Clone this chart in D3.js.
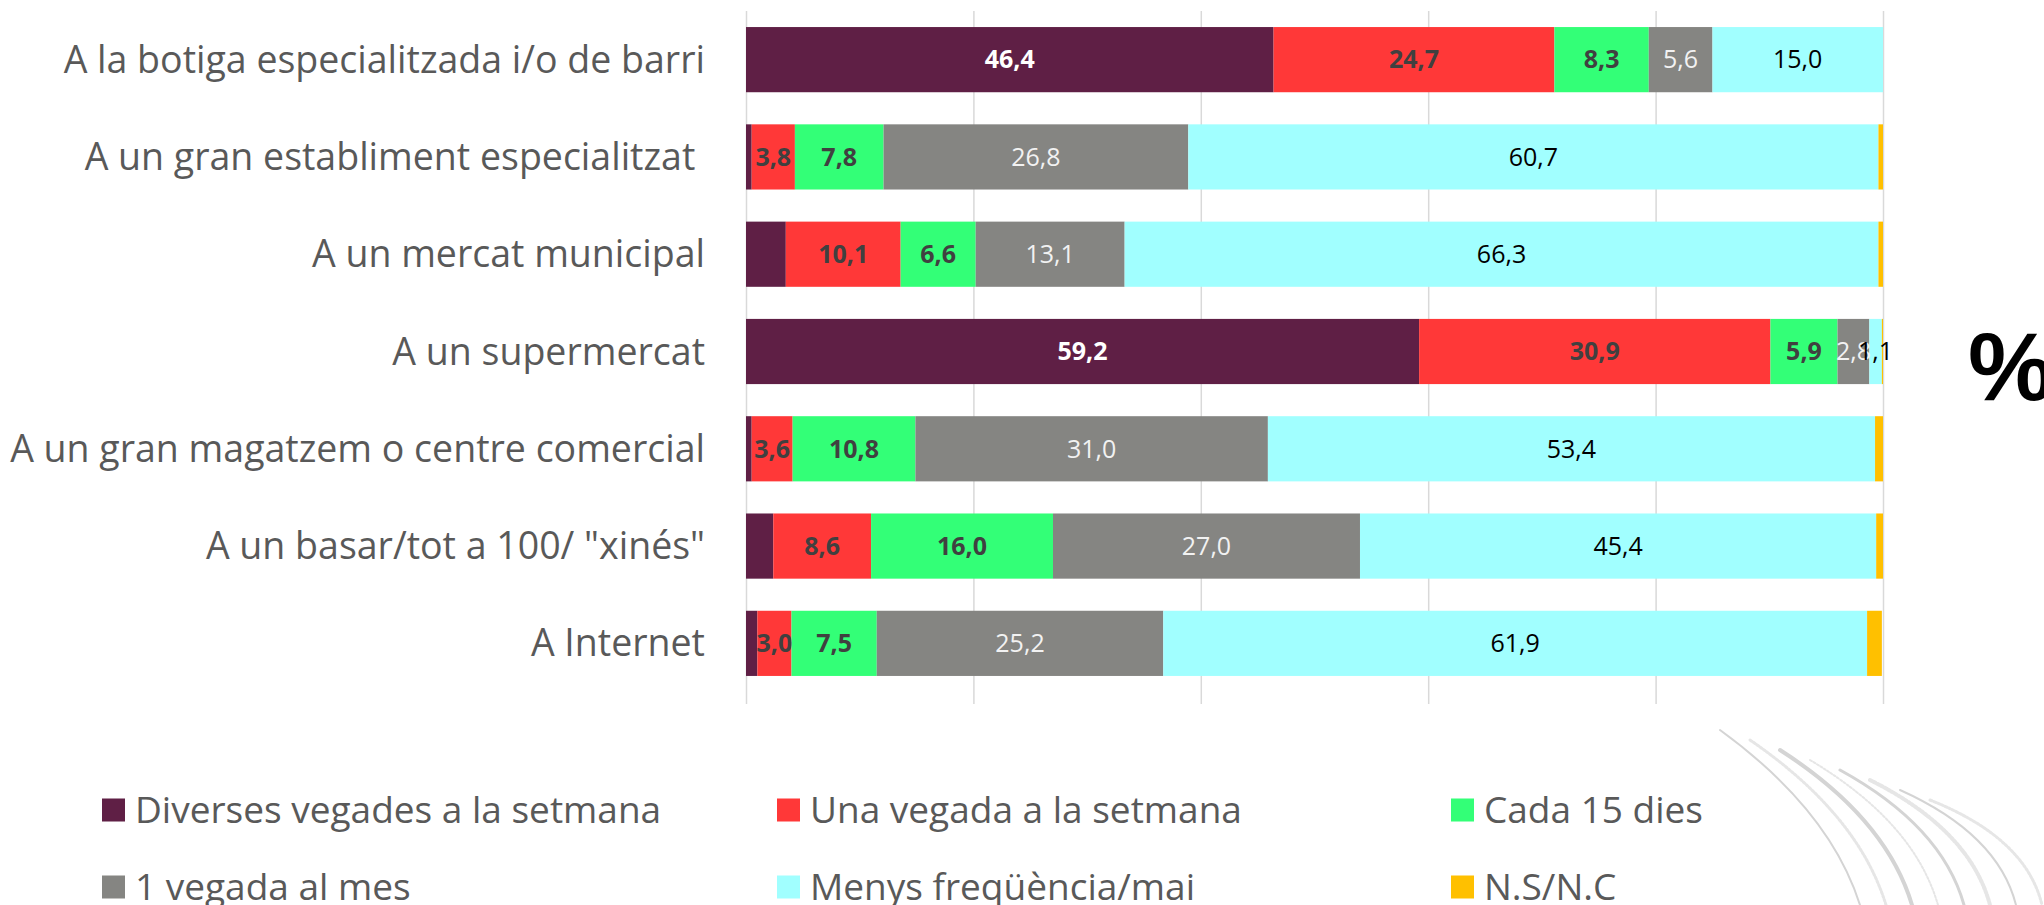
<!DOCTYPE html>
<html>
<head>
<meta charset="utf-8">
<script src="https://cdn.jsdelivr.net/npm/d3@7"></script>
<style>
  body { margin: 0; background: #fff; }
  svg { display: block; }
</style>
</head>
<body>
<svg id="chart" width="2044" height="905"></svg>
<script>
// categories, top to bottom
const categories = [
  "A la botiga especialitzada i/o de barri",
  "A un gran establiment especialitzat ",
  "A un mercat municipal",
  "A un supermercat",
  "A un gran magatzem o centre comercial",
  "A un basar/tot a 100/ \"xinés\"",
  "A Internet"
];

const seriesNames = [
  "Diverses vegades a la setmana",
  "Una vegada a la setmana",
  "Cada 15 dies",
  "1 vegada al mes",
  "Menys freqüència/mai",
  "N.S/N.C"
];
const seriesColors = ["#5f1f45", "#ff3838", "#33ff77", "#858582", "#a1ffff", "#ffc000"];

// values per series (%), one per category
const diverses  = [46.4, 0.5, 3.5, 59.2, 0.5, 2.4, 1.0];
const unaVegada = [24.7, 3.8, 10.1, 30.9, 3.6, 8.6, 3.0];
const cada15    = [8.3, 7.8, 6.6, 5.9, 10.8, 16.0, 7.5];
const alMes     = [5.6, 26.8, 13.1, 2.8, 31.0, 27.0, 25.2];
const menys     = [15.0, 60.7, 66.3, 1.1, 53.4, 45.4, 61.9];
const nsnc      = [0.0, 0.4, 0.4, 0.1, 0.7, 0.6, 1.3];

const xTicks = [0, 20, 40, 60, 80, 100];

const seriesValues = [diverses, unaVegada, cada15, alMes, menys, nsnc];

// label styling per series
const labelFill = ["#ffffff", "#404040", "#404040", "#f2f2f2", "#000000", "#000000"];
const labelBold = [true, true, true, false, false, false];
const labelMin  = [10, 0, 0, 0, 0, 999];   // smaller segments left unlabelled

const svg = d3.select("#chart");
const margin = { left: 746, right: 161, top: 11, bottom: 201 };
const width = +svg.attr("width");
const height = +svg.attr("height");
const innerWidth = width - margin.left - margin.right;
const innerHeight = height - margin.top - margin.bottom;

const fmt = d3.formatLocale({ decimal: ",", thousands: ".", grouping: [3], currency: ["", "€"] }).format(".1f");

// faint background decoration (diagonal swoosh lines, bottom right)
const deco = svg.append("g").attr("fill", "none").attr("stroke-linecap", "round");
[0, 1, 2, 3, 4, 5, 6, 7].forEach(i => {
  deco.append("path")
    .attr("stroke", i % 2 ? "#e6e6e6" : "#d4d4d4")
    .attr("stroke-width", 2 + (i % 3))
    .attr("stroke-dasharray", i % 2 ? "2 2" : null)
    .attr("d", `M${1720 + i * 30},${730 + i * 10} Q${1830 + i * 28},${810 + i * 4} ${1860 + i * 26},${905}`);
});

const g = svg.append("g")
  .attr("transform", `translate(${margin.left},${margin.top})`);

const xScale = d3.scaleLinear()
  .domain([0, 100])
  .range([0, innerWidth]);

const yScale = d3.scaleBand()
  .domain(categories)
  .range([0, innerHeight - 12])
  .paddingInner(0.33)
  .paddingOuter(0.165);

// gridlines
const xAxis = d3.axisBottom(xScale)
  .tickValues(xTicks)
  .tickSize(-innerHeight)
  .tickFormat("");

const xAxisG = g.append("g")
  .attr("transform", `translate(0,${innerHeight})`)
  .call(xAxis);
xAxisG.select(".domain").remove();
xAxisG.selectAll(".tick line")
  .attr("stroke", "#d9d9d9")
  .attr("stroke-width", 1.5);

// stacked data
const rows = categories.map((c, i) => {
  const r = { category: c };
  seriesNames.forEach((s, j) => { r[s] = seriesValues[j][i]; });
  return r;
});
const stacked = d3.stack().keys(seriesNames)(rows);

const layers = g.selectAll(".layer")
  .data(stacked)
  .join("g")
  .attr("class", "layer")
  .attr("fill", (d, i) => seriesColors[i]);

layers.selectAll("rect")
  .data(d => d)
  .join("rect")
  .attr("x", d => xScale(d[0]))
  .attr("y", d => yScale(d.data.category))
  .attr("width", d => xScale(d[1]) - xScale(d[0]))
  .attr("height", yScale.bandwidth());

// data labels
stacked.forEach((layer, i) => {
  g.append("g")
    .selectAll("text")
    .data(layer.filter(d => (d[1] - d[0]) >= labelMin[i]))
    .join("text")
    .attr("x", d => xScale((d[0] + d[1]) / 2))
    .attr("y", d => yScale(d.data.category) + yScale.bandwidth() / 2)
    .attr("dy", "0.35em")
    .attr("text-anchor", "middle")
    .attr("font-family", "'Open Sans', sans-serif")
    .attr("font-size", 25)
    .attr("font-weight", labelBold[i] ? "bold" : "normal")
    .attr("fill", labelFill[i])
    .text(d => fmt(d[1] - d[0]));
});

// category labels
g.append("g")
  .selectAll("text")
  .data(categories)
  .join("text")
  .attr("x", -41)
  .attr("y", d => yScale(d) + yScale.bandwidth() / 2)
  .attr("dy", "0.35em")
  .attr("text-anchor", "end")
  .attr("font-family", "'Open Sans', sans-serif")
  .attr("font-size", 37.5)
  .attr("fill", "#595959")
  .style("white-space", "pre")
  .text(d => d);

// percent sign
svg.append("text")
  .attr("x", 1968)
  .attr("y", 400)
  .attr("font-family", "'Liberation Sans', sans-serif")
  .attr("font-weight", "bold")
  .attr("font-size", 96)
  .attr("fill", "#000")
  .text("%");

// legend
const legendCols = [102, 777, 1451];
const legendRows = [810, 887];
const legend = svg.append("g");
seriesNames.forEach((name, i) => {
  const lx = legendCols[i % 3];
  const ly = legendRows[Math.floor(i / 3)];
  legend.append("rect")
    .attr("x", lx)
    .attr("y", ly - 11.5)
    .attr("width", 23)
    .attr("height", 23)
    .attr("fill", seriesColors[i]);
  legend.append("text")
    .attr("x", lx + 33)
    .attr("y", ly)
    .attr("dy", "0.35em")
    .attr("font-family", "'Open Sans', sans-serif")
    .attr("font-size", 37)
    .attr("fill", "#595959")
    .text(name);
});
</script>
</body>
</html>
